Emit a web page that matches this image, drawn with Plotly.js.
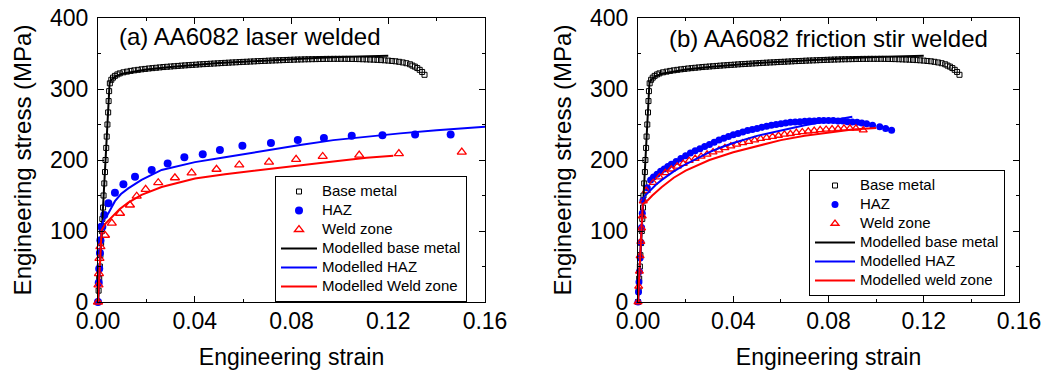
<!DOCTYPE html>
<html>
<head>
<meta charset="utf-8">
<script src="https://cdn.plot.ly/plotly-3.0.1.min.js"></script>
<style>html,body{margin:0;padding:0;background:#fff;}#chart{width:1051px;height:371px;}</style>
</head>
<body>
<div id="chart"></div>
<script>
// ---------- Base metal (same test in both panels) ----------
const baseStrain = [0, 0.00025, 0.0005, 0.00078, 0.001, 0.0013, 0.0016, 0.0018, 0.0021, 0.0023, 0.0026, 0.0029, 0.0031, 0.0034, 0.0036, 0.0039, 0.0042, 0.0044, 0.0046, 0.0049,
  0.0055, 0.0062, 0.007, 0.008, 0.009, 0.0105, 0.012, 0.0135, 0.015, 0.0165, 0.018, 0.0195, 0.021, 0.0225, 0.024, 0.0255, 0.027, 0.0285, 0.03, 0.0315, 0.033, 0.0345, 0.036, 0.0375, 0.039, 0.0405, 0.042, 0.0435, 0.045, 0.0465, 0.048, 0.0495, 0.051, 0.0525, 0.054, 0.0555, 0.057, 0.0585, 0.06, 0.0615, 0.063, 0.0645, 0.066, 0.0675, 0.069, 0.0705, 0.072, 0.0735, 0.075, 0.0765, 0.078, 0.0795, 0.081, 0.0825, 0.084, 0.0855, 0.087, 0.0885, 0.09, 0.0915, 0.093, 0.0945, 0.096, 0.0975, 0.099, 0.1005, 0.102, 0.1035, 0.105, 0.1065, 0.108, 0.1095, 0.111, 0.1125, 0.114, 0.1155, 0.117, 0.1185, 0.12, 0.1215, 0.123, 0.1245, 0.126, 0.1275, 0.129, 0.13, 0.131, 0.132, 0.133, 0.134, 0.135];
const baseStress = [0, 16, 33, 50, 66, 83, 100, 117, 133, 150, 167, 183, 200, 217, 233, 250, 267, 283, 297, 308,
  313, 316, 318.5, 320.5, 322, 323.5, 324.5, 325.5, 326.3, 327, 327.7, 328.3, 328.9, 329.4, 329.9, 330.4, 330.9, 331.3, 331.7, 332.1, 332.5, 332.9, 333.3, 333.6, 334, 334.3, 334.7, 335, 335.3, 335.6, 335.9, 336.2, 336.5, 336.8, 337.1, 337.4, 337.6, 337.9, 338.2, 338.4, 338.7, 338.9, 339.2, 339.4, 339.6, 339.9, 340.1, 340.3, 340.5, 340.7, 340.9, 341.1, 341.3, 341.5, 341.6, 341.8, 341.9, 342, 342.1, 342.2, 342.3, 342.4, 342.4, 342.5, 342.5, 342.5, 342.5, 342.4, 342.3, 342.2, 342.1, 341.9, 341.7, 341.5, 341.3, 341, 340.7, 340.4, 340, 339.5, 339, 338.3, 337.4, 336.3, 334.8, 333, 331.5, 329.5, 327, 324, 320, 315, 308];
const modelBaseStrain = [0, 0.0048, 0.0055, 0.007, 0.01, 0.015, 0.02, 0.03, 0.04, 0.05, 0.06, 0.07, 0.08, 0.09, 0.1, 0.11, 0.12];
const modelBaseStress = [0, 308, 313, 317.5, 321.5, 325, 327.5, 331, 334, 336.5, 338.5, 340.5, 342, 343.5, 345, 346, 347];

// ---------- (a) laser welded ----------
const hazAStrain = [0, 0.0003, 0.0005, 0.0008, 0.001, 0.0014, 0.0018, 0.0026, 0.0043, 0.007, 0.0105, 0.0153, 0.0222, 0.0288, 0.0357, 0.0433, 0.0504, 0.0597, 0.0715, 0.0826, 0.0934, 0.1049, 0.1176, 0.1311, 0.1458];
const hazAStress = [0, 27, 47, 69, 87, 106, 106, 122.5, 139, 154, 166, 176.5, 186, 195, 204, 208, 214, 220, 224, 228, 231, 234, 235, 236, 236];
const weldAStrain = [0, 0.0002, 0.0004, 0.0006, 0.001, 0.0029, 0.0057, 0.0091, 0.0132, 0.016, 0.0197, 0.0249, 0.0318, 0.0387, 0.049, 0.0584, 0.0707, 0.0819, 0.0929, 0.108, 0.1244, 0.1504];
const weldAStress = [0, 24, 40, 61.5, 78, 94, 111, 125, 136.6, 149, 158.7, 168, 175, 182, 187, 193, 197, 201, 205, 207, 209, 211];
const modelHazAStrain = [0, 0.0015, 0.0022, 0.0043, 0.007, 0.0095, 0.0125, 0.018, 0.0263, 0.0401, 0.0525, 0.0697, 0.0835, 0.0973, 0.111, 0.1249, 0.14, 0.16];
const modelHazAStress = [0, 106, 115, 125, 142, 152, 160, 172, 186, 197, 204, 214, 221, 228, 233, 237.5, 242, 247];
const modelWeldAStrain = [0, 0.0012, 0.0015, 0.003, 0.0057, 0.009, 0.0125, 0.018, 0.0263, 0.0401, 0.0525, 0.0697, 0.0835, 0.0973, 0.111, 0.1221];
const modelWeldAStress = [0, 92, 101, 110, 120, 131, 140, 151, 162, 174, 180, 187, 193, 198, 203, 206];

// ---------- (b) friction stir welded ----------
const hazBStrain = [0, 0.0002, 0.0004, 0.0006, 0.0009, 0.0012, 0.0015, 0.0018, 0.0021, 0.0039, 0.0053, 0.0065, 0.008, 0.0095, 0.011, 0.0125, 0.014, 0.016, 0.018, 0.02, 0.022, 0.024, 0.026, 0.028, 0.03, 0.032, 0.034, 0.036, 0.038, 0.04, 0.042, 0.044, 0.046, 0.048, 0.05, 0.052, 0.054, 0.056, 0.058, 0.06, 0.062, 0.064, 0.066, 0.068, 0.07, 0.072, 0.074, 0.076, 0.078, 0.08, 0.082, 0.084, 0.086, 0.088, 0.09, 0.092, 0.094, 0.096, 0.0985, 0.1015, 0.104, 0.1065];
const hazBStress = [0, 14, 28, 43, 62, 84, 105, 125, 143, 161, 172, 176, 180, 184, 187.5, 191, 194, 198, 202, 206, 210, 213, 216, 219, 222, 225, 228, 230.5, 233, 235.5, 237.5, 239.5, 241.5, 243, 244.5, 246, 247.5, 249, 250, 251, 252, 253, 253.5, 254, 254.5, 255, 255, 255.5, 255.5, 255.5, 255.5, 255, 255, 254, 253.5, 253, 252, 251, 249, 247, 244.5, 242];
const weldBStrain = [0, 0.0003, 0.0006, 0.0009, 0.0012, 0.0015, 0.0018, 0.0022, 0.0035, 0.0064, 0.009, 0.0115, 0.014, 0.0165, 0.019, 0.0215, 0.024, 0.0265, 0.029, 0.0315, 0.034, 0.0365, 0.039, 0.0415, 0.044, 0.0465, 0.049, 0.0515, 0.054, 0.0565, 0.059, 0.0615, 0.064, 0.0665, 0.069, 0.0715, 0.074, 0.0765, 0.079, 0.0815, 0.084, 0.0865, 0.089, 0.0915, 0.0946];
const weldBStress = [0, 22, 43, 65, 85, 104, 121, 142, 157, 168, 176, 182, 187, 191, 195, 199, 202, 205, 208, 211, 214, 217, 219.5, 222, 224, 226, 228, 230, 231.5, 233, 234.5, 236, 237, 238.5, 239.5, 240.5, 241.5, 242.5, 243, 243.5, 244, 244.5, 244.5, 244.5, 242];
const modelHazBStrain = [0, 0.0021, 0.003, 0.005, 0.0075, 0.01, 0.015, 0.02, 0.025, 0.03, 0.035, 0.04, 0.05, 0.06, 0.07, 0.08, 0.09];
const modelHazBStress = [0, 145, 150, 157, 165, 172, 184, 194, 203, 211, 218, 224, 234, 242, 249, 255, 261];
const modelWeldBStrain = [0, 0.002, 0.004, 0.006, 0.01, 0.015, 0.02, 0.03, 0.04, 0.05, 0.06, 0.07, 0.08, 0.09, 0.1];
const modelWeldBStress = [0, 138, 143, 150, 162, 175, 185, 200, 211, 220, 228, 234, 239, 243, 245];

const namesA = ['Base metal', 'HAZ', 'Weld zone', 'Modelled base metal', 'Modelled HAZ', 'Modelled Weld zone'];
const namesB = ['Base metal', 'HAZ', 'Weld zone', 'Modelled base metal', 'Modelled HAZ', 'Modelled weld zone'];
const xTickVals = [0, 0.04, 0.08, 0.12, 0.16];
const yTickVals = [0, 100, 200, 300, 400];

const FONT = 'Arial, "Liberation Sans", sans-serif';
const BLACK = '#000000', BLUE = '#0000ff', RED = '#ff0000';
const legText = s => '<span style="font-size:15px">' + s + '</span>';

function panel(xa, ya, leg, names, haz, weld, mHaz, mWeld, hazSize, weldSize) {
  return [
    {x: baseStrain, y: baseStress, xaxis: xa, yaxis: ya, legend: leg, name: legText(names[0]), mode: 'markers', cliponaxis: false,
     marker: {symbol: 'square-open', size: 5, color: BLACK, line: {width: 1, color: BLACK}}},
    {x: haz[0], y: haz[1], xaxis: xa, yaxis: ya, legend: leg, name: legText(names[1]), mode: 'markers', cliponaxis: false,
     marker: {symbol: 'circle', size: hazSize, color: BLUE}},
    {x: weld[0], y: weld[1], xaxis: xa, yaxis: ya, legend: leg, name: legText(names[2]), mode: 'markers', cliponaxis: false,
     marker: {symbol: 'triangle-up-open', size: weldSize, color: RED, line: {width: 1.3, color: RED}}},
    {x: modelBaseStrain, y: modelBaseStress, xaxis: xa, yaxis: ya, legend: leg, name: legText(names[3]), mode: 'lines',
     line: {color: BLACK, width: 2}},
    {x: mHaz[0], y: mHaz[1], xaxis: xa, yaxis: ya, legend: leg, name: legText(names[4]), mode: 'lines',
     line: {color: BLUE, width: 2}},
    {x: mWeld[0], y: mWeld[1], xaxis: xa, yaxis: ya, legend: leg, name: legText(names[5]), mode: 'lines',
     line: {color: RED, width: 2}}
  ];
}

const data = [].concat(
  panel('x', 'y', 'legend', namesA, [hazAStrain, hazAStress], [weldAStrain, weldAStress],
        [modelHazAStrain, modelHazAStress], [modelWeldAStrain, modelWeldAStress], 8, 8),
  panel('x2', 'y2', 'legend2', namesB, [hazBStrain, hazBStress], [weldBStrain, weldBStress],
        [modelHazBStrain, modelHazBStress], [modelWeldBStrain, modelWeldBStress], 7, 7)
);

const W = 1051, H = 371;
function xAxis(d, anchor) {
  return {domain: d, anchor: anchor, range: [0, 0.16], tickvals: xTickVals, tickformat: '.2f',
    ticks: 'inside', ticklen: 6, tickwidth: 1, tickcolor: BLACK, showline: true, linecolor: BLACK, linewidth: 1,
    mirror: 'allticks', showgrid: false, zeroline: false, automargin: false, ticklabelstandoff: -2,
    minor: {dtick: 0.02, tick0: 0, ticks: 'inside', ticklen: 3, tickwidth: 1, tickcolor: BLACK, showgrid: false},
    tickfont: {family: FONT, size: 23, color: BLACK},
    title: {text: 'Engineering strain', font: {family: FONT, size: 23, color: BLACK}, standoff: 16}};
}
function yAxis(d, anchor) {
  return {domain: d, anchor: anchor, range: [0, 400], tickvals: yTickVals,
    ticks: 'inside', ticklen: 6, tickwidth: 1, tickcolor: BLACK, showline: true, linecolor: BLACK, linewidth: 1,
    mirror: 'allticks', showgrid: false, zeroline: false, automargin: false, ticklabelstandoff: 4,
    minor: {dtick: 50, tick0: 0, ticks: 'inside', ticklen: 3, tickwidth: 1, tickcolor: BLACK, showgrid: false},
    tickfont: {family: FONT, size: 23, color: BLACK},
    title: {text: 'Engineering stress (MPa)', font: {family: FONT, size: 24, color: BLACK}, standoff: 11}};
}
const yDom = [1 - 302 / H, 1 - 18 / H];
const legendStyle = (x, y, iw) => ({x: x, y: y, xanchor: 'left', yanchor: 'top', xref: 'paper', yref: 'paper',
  bgcolor: '#ffffff', bordercolor: BLACK, borderwidth: 1, font: {family: FONT, size: 12, color: BLACK},
  itemwidth: iw, tracegroupgap: 0, traceorder: 'normal'});

const layout = {
  width: W, height: H, margin: {l: 0, r: 0, t: 0, b: 0},
  paper_bgcolor: '#ffffff', plot_bgcolor: '#ffffff',
  xaxis: xAxis([98 / W, 485 / W], 'y'),
  yaxis: yAxis(yDom, 'x'),
  xaxis2: xAxis([638 / W, 1019 / W], 'y2'),
  yaxis2: yAxis(yDom, 'x2'),
  legend: legendStyle(275 / W, 1 - 176 / H, 36),
  legend2: legendStyle(809 / W, 1 - 170 / H, 40),
  annotations: [
    {text: '(a) AA6082 laser welded', xref: 'paper', yref: 'paper', x: 117 / W, y: 1 - 37 / H,
     xanchor: 'left', yanchor: 'middle', showarrow: false, font: {family: FONT, size: 24, color: BLACK}},
    {text: '(b) AA6082 friction stir welded', xref: 'paper', yref: 'paper', x: 667 / W, y: 1 - 39 / H,
     xanchor: 'left', yanchor: 'middle', showarrow: false, font: {family: FONT, size: 24, color: BLACK}}
  ]
};

Plotly.newPlot('chart', data, layout, {displayModeBar: false, staticPlot: true});
</script>
</body>
</html>
